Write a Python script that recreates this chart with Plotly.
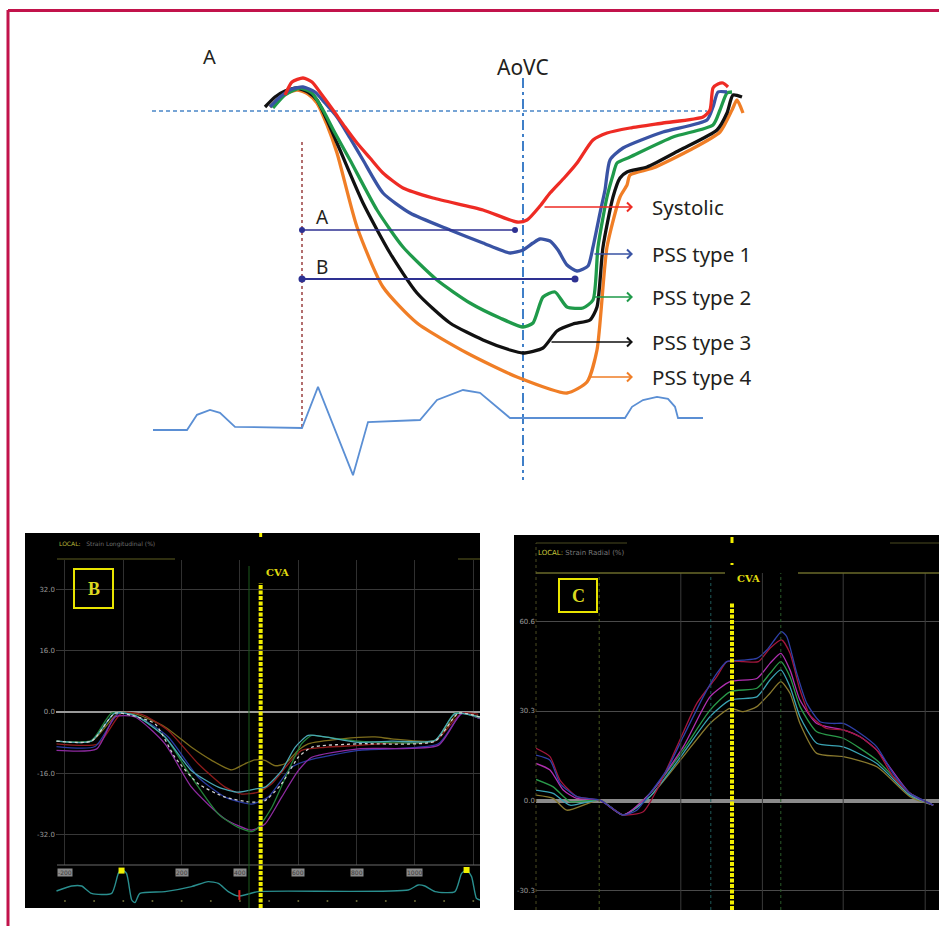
import plotly.graph_objects as go

W, H = 939, 926
def X(px): return px / W
def Y(py): return 1 - py / H

# ---------------- Panel A (schematic, time ms / strain %) ----------------
A_red_t = [-30,-16,6,24,44,66,90,114,140,166,206,266,366,434,454,480,500,530,554,586,614,660,726,806,820,826,836,846,856]
A_red_s = [1.6,2.9,3.3,2.9,1.6,0.1,-1.6,-3.2,-4.7,-6.2,-7.7,-8.7,-9.9,-11.1,-10.9,-9.5,-8.2,-6.6,-5.2,-2.9,-2.2,-1.7,-1.2,-0.6,0.1,2.3,2.7,2.8,2.4]
A_blue_t = [-60,-40,-16,6,30,50,74,100,126,166,220,300,366,420,446,466,480,500,516,534,554,576,586,600,610,620,646,726,814,826,836,854]
A_blue_s = [0.4,1.4,2.2,2.4,1.9,0.8,-0.6,-2.7,-4.9,-8.2,-10.2,-11.9,-13.2,-14.2,-13.9,-13.2,-12.8,-13.0,-13.9,-15.4,-16.0,-15.5,-13.6,-10.2,-7.9,-4.9,-3.7,-2.1,-0.9,0.4,1.9,1.9]
A_green_t = [-54,-30,0,24,46,70,100,154,206,274,340,400,446,466,486,510,534,566,586,596,614,626,634,660,746,826,840,854,864]
A_green_s = [0.3,1.6,2.3,1.8,0.1,-2.2,-4.9,-9.9,-13.6,-16.9,-19.2,-20.7,-21.6,-21.2,-18.6,-18.1,-19.6,-19.7,-18.9,-13.6,-8.6,-6.4,-5.2,-4.6,-2.6,-1.4,0.1,1.8,1.9]
A_black_t = [-70,-50,-30,-6,16,34,54,74,126,180,234,300,366,420,446,486,514,546,580,594,606,626,640,654,694,760,834,854,866,884]
A_black_s = [0.4,1.4,2.0,2.3,1.9,1.1,-0.9,-3.2,-9.2,-14.2,-18.2,-21.2,-22.9,-23.9,-24.2,-23.7,-22.0,-21.3,-20.9,-19.6,-13.6,-8.6,-6.7,-6.1,-5.6,-3.9,-1.9,-0.2,1.6,1.4]
A_orange_t = [-60,-34,-6,16,34,54,74,114,166,234,334,434,534,574,594,614,640,654,660,706,780,840,864,874,886]
A_orange_s = [0.4,1.6,2.1,1.7,0.8,-1.4,-4.2,-11.6,-17.6,-21.2,-24.2,-26.6,-28.2,-27.1,-23.9,-13.6,-8.6,-7.4,-6.4,-5.7,-3.9,-2.1,0.1,1.1,-0.2]
A_ecg_t = [-294,-226,-206,-180,-160,-130,4,36,106,136,240,274,326,360,420,650,664,686,714,736,750,756,806]
A_ecg_mv = [-0.05,-0.05,0.33,0.45,0.38,0.03,0,1.03,-1.18,0.15,0.2,0.7,0.95,0.88,0.25,0.25,0.53,0.7,0.78,0.73,0.53,0.25,0.25]
A_baseline_t = [-296, 814]
A_qrs_t = 4
A_aovc_t = 446
A_lineA_t = [4, 430]; A_lineA_s = -11.9
A_lineB_t = [4, 550]; A_lineB_s = -16.8
A_labels = ["Systolic", "PSS type 1", "PSS type 2", "PSS type 3", "PSS type 4"]
A_label_s = [-9.6, -14.3, -18.6, -23.1, -26.6]
A_arrow_start_t = [486, 586, 586, 500, 574]
A_arrow_end_t = 666
A_colors = ["#ee2b24", "#3953a4", "#1f9a4a", "#111111", "#f07e26"]

# ---------------- Panel B (longitudinal strain) ----------------
B_time_ticks = [-200, 0, 200, 400, 600, 800, 1000, 1200]
B_strain_ticks = [32, 16, 0, -16, -32]
B_strain_ticktext = ["32.0", "16.0", "0.0", "-16.0", "-32.0"]
B_olive_t = [-229,-109,-17,40,143,234,303,371,417,451,486,520,554,600,634,749,863,920,1069,1149,1223]
B_olive_s = [-7.6,-7.6,-0.3,-0.4,-3.9,-9.2,-12.6,-15.1,-13.5,-12.5,-12.6,-14.0,-13.5,-10.0,-8.3,-7.0,-6.5,-7.0,-7.4,-0.3,-1.3]
B_red_t = [-229,-86,-6,63,154,257,349,406,463,509,566,611,691,806,920,1069,1160,1217]
B_red_s = [-8.3,-8.3,-0.3,-0.6,-4.8,-13.5,-19.6,-21.4,-20.9,-18.7,-13.5,-10.0,-9.2,-8.7,-8.1,-7.6,-0.3,-0.6]
B_cyan_t = [-229,-109,-29,40,143,234,326,394,451,486,543,589,634,691,806,920,1069,1137,1223]
B_cyan_s = [-7.6,-7.6,-0.3,-0.9,-6.5,-15.3,-19.6,-20.9,-20.1,-19.6,-15.3,-9.2,-6.1,-6.5,-7.9,-7.6,-7.4,-0.4,-1.3]
B_white_t = [-229,-109,-29,29,109,177,257,349,440,486,543,600,646,806,1069,1149,1223]
B_white_s = [-7.6,-7.6,-0.3,-0.9,-3.1,-11.8,-18.7,-22.2,-23.5,-23.1,-18.7,-11.8,-9.2,-8.3,-7.6,-0.3,-1.3]
B_purple_t = [-229,-91,-29,40,143,234,349,440,486,543,600,646,806,1080,1160,1223]
B_purple_s = [-10.0,-9.6,-1.3,-1.3,-8.3,-19.6,-27.9,-30.8,-29.2,-22.2,-15.3,-11.8,-9.6,-8.7,-0.4,-1.7]
B_green_t = [-229,-109,-40,40,143,234,326,394,440,463,509,566,611,646,691,806,1069,1137,1223]
B_green_s = [-7.6,-7.4,-0.3,-0.9,-6.5,-17.0,-26.6,-30.1,-31.2,-30.1,-24.9,-15.3,-8.3,-6.1,-6.5,-7.6,-7.4,-0.3,-1.5]
B_blue_t = [-229,-97,-17,51,154,257,349,440,497,577,634,806,1080,1160,1223]
B_blue_s = [-9.0,-9.0,-0.4,-1.3,-6.5,-17.0,-22.2,-24.0,-22.2,-14.4,-12.6,-10.0,-8.3,-0.4,-1.7]
B_ecg_t = [-229,-177,-143,-109,-40,-17,-6,11,29,40,57,143,234,291,326,360,394,429,463,977,1011,1034,1069,1137,1160,1177,1194,1211,1223]
B_ecg_mv = [0,0.25,0.25,-0.12,-0.12,0.88,1.08,0.88,-0.45,-0.58,-0.12,-0.03,0.22,0.47,0.38,-0.03,-0.25,-0.15,-0.03,0.05,0.3,0.25,-0.03,-0.03,0.88,1.05,0.72,-0.37,-0.45]
B_rpeak_t = [-6, 1177]
B_rpeak_mv = [1.02, 1.05]
B_cva_t = 471
B_time_labels = ["-200", "200", "400", "600", "800", "1000"]
B_time_label_t = [-200, 200, 400, 600, 800, 1000]

# ---------------- Panel C (radial strain) ----------------
C_strain_ticks = [60.6, 30.3, 0, -30.3]
C_strain_ticktext = ["60.6", "30.3", "0.0", "-30.3"]
C_blue_t = [0,35,60,102,160,185,218,252,285,327,368,418,452,477,518,552,577,602,614,627,652,677,710,743,768,810,852,893,935,968,993]
C_blue_s = [15.4,13.7,5.9,1.4,0.2,-2.0,-4.8,-3.2,2.5,10.4,21.6,35.1,43.0,47.0,47.5,48.1,50.9,55.4,57.1,55.4,43.0,32.9,26.7,26.1,26.1,22.8,18.2,9.2,2.5,0.2,-1.5]
C_red_t = [0,35,60,102,160,185,218,268,302,352,402,452,477,518,556,585,614,635,660,685,727,768,810,852,893,935,993]
C_red_s = [17.7,14.9,7.0,1.4,0.2,-2.0,-4.8,-3.7,3.6,18.2,32.9,41.9,47.0,47.0,47.0,51.5,54.3,49.8,37.4,28.9,24.4,23.9,21.6,17.1,8.1,2.5,-1.5]
C_magenta_t = [0,35,68,102,160,218,285,368,435,485,552,585,612,635,660,702,768,810,852,935,993]
C_magenta_s = [12.6,10.4,3.6,0.8,0.2,-4.8,2.5,18.2,35.1,40.2,41.3,46.4,49.8,44.2,34.0,26.1,23.9,21.6,17.1,2.5,-1.5]
C_green_t = [0,43,85,160,218,285,368,435,485,552,585,612,635,660,702,768,852,935,993]
C_green_s = [7.2,4.7,-0.3,0.2,-4.8,2.5,17.1,30.6,36.8,38.0,43.0,47.0,41.9,31.8,23.3,21.1,13.7,2.5,-1.5]
C_teal_t = [0,43,85,160,218,285,368,435,485,552,585,612,635,660,702,768,852,935,993]
C_teal_s = [3.6,2.5,-1.5,0.2,-4.8,1.4,16.0,28.4,34.0,35.1,40.8,44.2,38.5,28.4,19.4,18.2,12.6,1.9,-1.5]
C_olive_t = [0,43,77,160,218,285,368,435,485,518,552,585,612,635,660,702,768,852,935,993]
C_olive_s = [1.9,0.8,-3.2,0.2,-4.8,1.4,14.9,26.1,31.2,30.1,31.8,36.3,40.2,36.3,26.1,16.0,14.9,11.5,1.4,-1.5]
C_cva_t = 490
C_event_t = [158, 362, 437, 566, 612, 768, 973]
C_event_color = ["#4a5a20", "#3a3a3a", "#1f5a5a", "#3a3a3a", "#2a5a2a", "#3a3a3a", "#3a3a3a"]

fig = go.Figure()

def add(xs, ys, color, width, xa='x', ya='y', dash='solid', shape='linear', mode='lines', marker=None):
    fig.add_trace(go.Scatter(x=xs, y=ys, mode=mode, xaxis=xa, yaxis=ya,
                             line=dict(color=color, width=width, dash=dash, shape=shape, smoothing=0.6),
                             marker=marker, hoverinfo='skip', showlegend=False))

# Panel A traces
add(A_baseline_t, [0, 0], '#4a86c8', 1.5, dash='4px,3px')
add(A_ecg_t, A_ecg_mv, '#5b8fd4', 1.8, ya='y2')
add([A_qrs_t, A_qrs_t], [-3.1, -31.7], '#8b2323', 1.3, dash='dot')
add([A_aovc_t, A_aovc_t], [3.3, -36.9], '#3f7fc8', 2, dash='10px,4px,3px,4px')
for t, s, c in [(A_orange_t, A_orange_s, A_colors[4]), (A_black_t, A_black_s, A_colors[3]),
                (A_green_t, A_green_s, A_colors[2]), (A_blue_t, A_blue_s, A_colors[1]),
                (A_red_t, A_red_s, A_colors[0])]:
    add(t, s, c, 3.3, shape='spline')
add(A_lineA_t, [A_lineA_s] * 2, '#2e3192', 1.5, mode='lines+markers', marker=dict(size=6, color='#2e3192'))
add(A_lineB_t, [A_lineB_s] * 2, '#2e3192', 2.2, mode='lines+markers', marker=dict(size=7, color='#2e3192'))

# Panel B traces
for t, s, c, d in [(B_olive_t, B_olive_s, '#7d6d1c', 'solid'), (B_red_t, B_red_s, '#8e1b1b', 'solid'),
                   (B_blue_t, B_blue_s, '#2a3aa0', 'solid'), (B_purple_t, B_purple_s, '#8e2aa0', 'solid'),
                   (B_green_t, B_green_s, '#23823a', 'solid'), (B_cyan_t, B_cyan_s, '#4aa6b4', 'solid'),
                   (B_white_t, B_white_s, '#d0d0d0', 'dot')]:
    add(t, s, c, 1.3, xa='x3', ya='y3', dash=d, shape='spline')
add(B_ecg_t, B_ecg_mv, '#2a8f8f', 1.4, xa='x4', ya='y4', shape='spline')
add(B_rpeak_t, B_rpeak_mv, '#f0f000', 1, xa='x4', ya='y4', mode='markers',
    marker=dict(symbol='square', size=6, color='#f0f000'))
add([398], [-0.2], '#e02020', 1, xa='x4', ya='y4', mode='markers',
    marker=dict(symbol='line-ns', size=7, line=dict(color='#e02020', width=2)))
add([-200 + 100 * i for i in range(15)], [-0.5] * 15, '#6a6a3a', 1, xa='x4', ya='y4', mode='markers',
    marker=dict(size=2, color='#6a6a3a'))

# Panel C traces
for t, s, c in [(C_olive_t, C_olive_s, '#8a7a2e'), (C_teal_t, C_teal_s, '#3aa3b3'),
                (C_green_t, C_green_s, '#2a9a4a'), (C_magenta_t, C_magenta_s, '#b02fb0'),
                (C_red_t, C_red_s, '#a3163c'), (C_blue_t, C_blue_s, '#2f40a8')]:
    add(t, s, c, 1.3, xa='x5', ya='y5', shape='spline')

shapes = []
# frame
shapes.append(dict(type='line', xref='paper', yref='paper', x0=X(8), x1=X(8), y0=0, y1=Y(10), line=dict(color='#c2134b', width=3)))
shapes.append(dict(type='line', xref='paper', yref='paper', x0=X(8), x1=1, y0=Y(10.5), y1=Y(10.5), line=dict(color='#c2134b', width=3)))
# black panels
shapes.append(dict(type='rect', xref='paper', yref='paper', x0=X(25), x1=X(480), y0=Y(908), y1=Y(533), fillcolor='black', line=dict(width=0), layer='below'))
shapes.append(dict(type='rect', xref='paper', yref='paper', x0=X(514), x1=1, y0=Y(910), y1=Y(535), fillcolor='black', line=dict(width=0), layer='below'))
# panel B decorations
shapes.append(dict(type='line', xref='paper', yref='paper', x0=X(57), x1=X(480), y0=Y(865), y1=Y(865), line=dict(color='#6a6a6a', width=1)))
shapes.append(dict(type='line', xref='paper', yref='paper', x0=X(57), x1=X(175), y0=Y(559), y1=Y(559), line=dict(color='#5e5e20', width=1)))
shapes.append(dict(type='line', xref='paper', yref='paper', x0=X(458), x1=X(480), y0=Y(559), y1=Y(559), line=dict(color='#5e5e20', width=1)))
shapes.append(dict(type='line', xref='x3', yref='paper', x0=431, x1=431, y0=Y(908), y1=Y(566), line=dict(color='#1c5a1c', width=1)))
shapes.append(dict(type='line', xref='x3', yref='paper', x0=B_cva_t, x1=B_cva_t, y0=Y(908), y1=Y(583), line=dict(color='#f2ee00', width=4, dash='4px,1.5px')))
shapes.append(dict(type='line', xref='x3', yref='paper', x0=B_cva_t, x1=B_cva_t, y0=Y(537), y1=Y(533), line=dict(color='#f2ee00', width=3)))
shapes.append(dict(type='rect', xref='paper', yref='paper', x0=X(74), x1=X(113), y0=Y(608), y1=Y(569), line=dict(color='#e8e400', width=2)))
# panel C decorations
for t, c in zip(C_event_t, C_event_color):
    shapes.append(dict(type='line', xref='x5', yref='paper', x0=t, x1=t, y0=Y(910), y1=Y(573), line=dict(color=c, width=1, dash='dot' if c != '#3a3a3a' else 'solid')))
shapes.append(dict(type='line', xref='paper', yref='paper', x0=X(536), x1=X(536), y0=Y(910), y1=Y(543), line=dict(color='#4a4a20', width=1, dash='dot')))
shapes.append(dict(type='line', xref='paper', yref='paper', x0=X(536), x1=X(725), y0=Y(573), y1=Y(573), line=dict(color='#6a6a2a', width=1.3)))
shapes.append(dict(type='line', xref='paper', yref='paper', x0=X(798), x1=1, y0=Y(573), y1=Y(573), line=dict(color='#6a6a2a', width=1.3)))
shapes.append(dict(type='line', xref='paper', yref='paper', x0=X(536), x1=X(627), y0=Y(543), y1=Y(543), line=dict(color='#4a4a20', width=1)))
shapes.append(dict(type='line', xref='paper', yref='paper', x0=X(890), x1=1, y0=Y(543), y1=Y(543), line=dict(color='#4a4a20', width=1)))
shapes.append(dict(type='line', xref='x5', yref='paper', x0=C_cva_t, x1=C_cva_t, y0=Y(910), y1=Y(602), line=dict(color='#f2ee00', width=4, dash='4px,1.5px')))
shapes.append(dict(type='line', xref='x5', yref='paper', x0=C_cva_t, x1=C_cva_t, y0=Y(543), y1=Y(537), line=dict(color='#f2ee00', width=3)))
shapes.append(dict(type='line', xref='x5', yref='paper', x0=C_cva_t, x1=C_cva_t, y0=Y(565), y1=Y(563), line=dict(color='#f2ee00', width=3)))
shapes.append(dict(type='rect', xref='paper', yref='paper', x0=X(559), x1=X(597), y0=Y(612), y1=Y(579), line=dict(color='#e8e400', width=2)))

ann = []
TXT = dict(family='Noto Sans, Open Sans, sans-serif', color='#231f20')
C_ = dict(xanchor='center', yanchor='middle', showarrow=False)
ann.append(dict(text='A', x=X(209), y=Y(57), xref='paper', yref='paper', font=dict(TXT, size=20), **C_))
ann.append(dict(text='AoVC', x=X(523), y=Y(67), xref='paper', yref='paper', font=dict(TXT, size=21), **C_))
ann.append(dict(text='A', x=44, y=-10.6, xref='x', yref='y', font=dict(TXT, size=19), **C_))
ann.append(dict(text='B', x=44, y=-15.6, xref='x', yref='y', font=dict(TXT, size=19), **C_))
for lab, s, t0, c in zip(A_labels, A_label_s, A_arrow_start_t, A_colors):
    ann.append(dict(text='', x=A_arrow_end_t, y=s, ax=t0, ay=s, xref='x', yref='y', axref='x', ayref='y',
                    showarrow=True, arrowhead=4, arrowsize=1.1, arrowwidth=1.6, arrowcolor=c, standoff=0))
    ann.append(dict(text=lab, x=700, y=s, xref='x', yref='y', xanchor='left', yanchor='middle',
                    showarrow=False, font=dict(TXT, size=20.5)))

# Panel B texts
ann.append(dict(text='<span style="color:#b8b83a">LOCAL:</span>   Strain Longitudinal (%)', x=X(57), y=Y(544),
                xref='paper', yref='paper', xanchor='left', yanchor='middle', showarrow=False,
                font=dict(family='DejaVu Sans', size=6, color='#6e6e6e')))
ann.append(dict(text='<b>CVA</b>', x=X(277), y=Y(572), xref='paper', yref='paper',
                font=dict(family='DejaVu Serif', size=10, color='#e0dc10'), **C_))
ann.append(dict(text='<b>B</b>', x=X(93.5), y=Y(588.5), xref='paper', yref='paper',
                font=dict(family='Liberation Serif', size=18, color='#dcd820'), **C_))
for lab, t in zip(B_time_labels, B_time_label_t):
    ann.append(dict(text=lab, x=t, y=Y(872), xref='x3', yref='paper', bgcolor='#8a8a8a',
                    font=dict(family='DejaVu Sans', size=6, color='#3a3a3a'), borderpad=0, **C_))

# Panel C texts
ann.append(dict(text='<span style="color:#c8c83a">LOCAL:</span> Strain Radial (%)', x=X(536), y=Y(553),
                xref='paper', yref='paper', xanchor='left', yanchor='middle', showarrow=False,
                font=dict(family='DejaVu Sans', size=7, color='#7a7a7a')))
ann.append(dict(text='<b>CVA</b>', x=X(748), y=Y(578), xref='paper', yref='paper',
                font=dict(family='DejaVu Serif', size=10, color='#e0dc10'), **C_))
ann.append(dict(text='<b>C</b>', x=X(578), y=Y(595.5), xref='paper', yref='paper',
                font=dict(family='Liberation Serif', size=18, color='#dcd820'), **C_))

hidden = dict(visible=False)
fig.update_layout(
    width=W, height=H, margin=dict(l=0, r=0, t=0, b=0),
    paper_bgcolor='white', plot_bgcolor='rgba(0,0,0,0)',
    showlegend=False,
    xaxis=dict(domain=[X(150), X(760)], range=[-300, 920], anchor='y', **hidden),
    yaxis=dict(domain=[Y(490), Y(40)], range=[-37.9, 7.1], anchor='x', **hidden),
    yaxis2=dict(domain=[Y(480), Y(380)], range=[-1.3, 1.2], anchor='x', **hidden),
    xaxis3=dict(domain=[X(56), X(480)], range=[-230.7, 1223], anchor='y3', showgrid=True, gridcolor='#303030',
                gridwidth=1, tickvals=B_time_ticks, showticklabels=False, zeroline=False, showline=False, ticks=''),
    yaxis3=dict(domain=[Y(865), Y(560)], range=[-39.9, 39.65], anchor='x3', tickvals=B_strain_ticks,
                ticktext=B_strain_ticktext, tickfont=dict(family='DejaVu Sans', size=7, color='#9a9a9a'),
                showgrid=True, gridcolor='#383838', zeroline=True, zerolinecolor='#9a9a9a', zerolinewidth=1.5,
                showline=False, ticks=''),
    xaxis4=dict(domain=[X(56), X(480)], range=[-230.7, 1223], anchor='y4', **hidden),
    yaxis4=dict(domain=[Y(905), Y(860)], range=[-0.7, 1.55], anchor='x4', **hidden),
    xaxis5=dict(domain=[X(536), 1.0], range=[0, 1007.5], anchor='y5', **hidden),
    yaxis5=dict(domain=[Y(910), Y(600)], range=[-36.9, 67.8], anchor='x5', tickvals=C_strain_ticks,
                ticktext=C_strain_ticktext, tickfont=dict(family='DejaVu Sans', size=7, color='#9a9a9a'),
                showgrid=True, gridcolor='#4a4a4a', zeroline=True, zerolinecolor='#8a8a8a', zerolinewidth=3.5,
                showline=False, ticks=''),
    shapes=shapes, annotations=ann,
)

fig.write_html("out.html", config={'displayModeBar': False},
               post_script="document.body.style.margin='0px';document.body.style.overflow='hidden';")
